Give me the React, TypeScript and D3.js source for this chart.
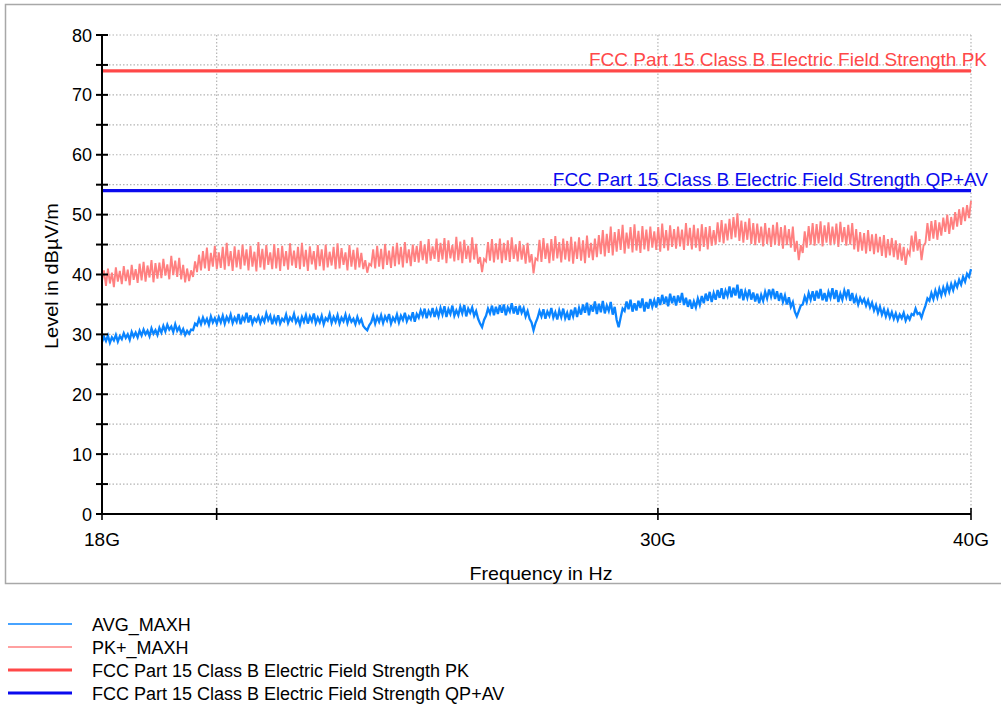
import React from 'react';
import * as d3 from 'd3';

// ---- data ----
const F_START = 18e9;
const F_STOP = 40e9;
const Y_TICKS = [0, 10, 20, 30, 40, 50, 60, 70, 80];
const Y_MINOR = [5, 15, 25, 35, 45, 55, 65, 75];
const Y_GRID = [5, 10, 15, 20, 25, 30, 35, 40, 45, 50, 55, 60, 65, 70, 75, 80];
const X_TICKS = [18e9, 20e9, 30e9, 40e9];
const X_TICK_LABELS = ['18G', '', '30G', '40G'];
const X_GRID = [20e9, 30e9, 40e9];
const LIMIT_PK = 74;
const LIMIT_QPAV = 54;

const PK_MAXH = [
  38.9, 40.7, 38.1, 41.0, 38.5, 40.3, 37.9, 41.2, 38.8, 40.6,
  38.4, 41.4, 38.9, 40.8, 38.2, 41.6, 39.1, 40.9, 38.6, 41.8,
  39.0, 42.1, 38.8, 41.5, 39.5, 42.4, 38.7, 41.9, 39.3, 42.0,
  39.4, 42.6, 39.8, 41.7, 39.2, 43.1, 39.9, 42.3, 39.6, 42.8,
  39.2, 41.6, 38.7, 41.0, 38.9, 40.7, 39.6, 42.2, 40.4, 43.3,
  40.7, 43.9, 41.0, 44.5, 40.6, 43.6, 41.3, 44.8, 40.9, 43.7,
  41.1, 44.6, 40.8, 45.3, 41.4, 43.9, 40.6, 44.7, 41.2, 44.1,
  40.9, 45.0, 41.5, 44.2, 40.7, 44.8, 41.3, 43.8, 40.5, 45.4,
  41.2, 44.3, 40.8, 44.9, 41.6, 43.7, 40.9, 45.1, 41.0, 44.4,
  40.6, 44.8, 41.4, 43.9, 40.8, 45.2, 41.5, 44.0, 41.1, 44.6,
  40.9, 45.3, 41.3, 44.1, 40.6, 44.7, 41.7, 43.9, 40.8, 44.9,
  41.4, 44.2, 40.7, 45.0, 41.2, 43.8, 41.5, 44.6, 40.9, 45.2,
  41.0, 44.4, 41.6, 43.7, 40.7, 44.9, 41.3, 44.1, 40.8, 44.5,
  41.2, 43.6, 40.9, 42.4, 40.3, 41.8, 41.5, 44.2, 41.0, 44.8,
  41.3, 44.3, 40.9, 45.1, 41.6, 44.0, 41.1, 44.7, 41.4, 45.3,
  41.7, 44.6, 41.2, 45.4, 41.9, 44.2, 41.4, 45.0, 42.1, 44.8,
  42.0, 45.6, 42.4, 45.0, 41.8, 45.9, 42.3, 44.7, 42.6, 46.0,
  42.1, 45.3, 42.5, 46.1, 41.9, 45.7, 42.7, 44.9, 42.2, 46.3,
  42.4, 45.5, 41.9, 45.8, 42.6, 44.8, 42.0, 46.2, 42.5, 45.1,
  41.8, 42.9, 40.4, 42.6, 42.2, 45.4, 42.3, 45.9, 42.0, 45.2,
  42.5, 46.0, 41.9, 45.3, 42.4, 45.7, 42.1, 46.2, 42.6, 45.0,
  42.2, 45.6, 42.5, 44.9, 41.8, 45.3, 42.0, 43.4, 40.2, 42.7,
  42.4, 45.8, 42.1, 46.1, 42.6, 45.2, 41.9, 45.9, 42.3, 46.4,
  42.7, 45.4, 42.0, 46.0, 42.5, 45.6, 42.2, 46.3, 41.8, 45.5,
  42.6, 46.2, 42.3, 45.7, 41.9, 46.5, 42.8, 45.3, 42.4, 46.0,
  42.9, 46.6, 43.4, 47.4, 43.0, 46.8, 43.6, 48.0, 43.2, 47.1,
  43.8, 47.6, 44.1, 48.3, 43.5, 47.0, 44.3, 47.9, 43.7, 48.4,
  44.0, 47.3, 43.6, 48.1, 44.2, 47.5, 43.9, 48.0, 44.5, 47.2,
  44.1, 47.9, 43.8, 48.5, 44.4, 47.4, 44.0, 48.2, 44.6, 47.6,
  44.3, 48.0, 44.7, 47.5, 44.1, 48.6, 44.8, 47.8, 44.2, 48.3,
  44.5, 47.7, 43.9, 48.4, 44.6, 47.9, 44.2, 48.1, 44.8, 47.4,
  45.0, 48.7, 45.4, 49.1, 45.2, 48.5, 45.7, 49.3, 45.9, 49.6,
  46.2, 50.2, 45.6, 49.0, 45.3, 48.8, 45.8, 49.4, 45.1, 48.6,
  44.9, 48.5, 45.3, 48.0, 44.7, 48.6, 45.1, 47.8, 44.6, 48.3,
  45.0, 48.7, 44.8, 47.9, 44.3, 48.2, 44.9, 47.6, 44.5, 48.0,
  43.8, 45.6, 42.4, 44.9, 43.6, 47.2, 44.5, 48.1, 45.0, 48.6,
  44.8, 48.4, 45.2, 48.9, 44.7, 48.2, 45.3, 48.7, 44.9, 48.0,
  45.1, 48.5, 44.6, 48.8, 45.4, 47.9, 44.8, 48.3, 45.0, 48.6,
  44.2, 47.6, 43.8, 47.1, 44.0, 46.9, 43.5, 47.4, 43.9, 46.7,
  43.4, 46.8, 43.7, 46.3, 43.1, 46.6, 42.8, 45.9, 43.2, 46.1,
  42.9, 45.7, 42.5, 45.2, 42.3, 44.6, 41.6, 44.0, 43.3, 46.5,
  43.8, 47.2, 44.0, 45.9, 42.4, 44.8, 45.3, 48.6, 45.6, 48.9,
  46.0, 49.1, 45.8, 48.7, 46.5, 49.5, 47.1, 50.0, 46.8, 49.6,
  47.5, 50.4, 48.0, 50.9, 48.3, 51.2, 48.9, 51.6, 49.4, 52.3,
];

const AVG_MAXH = [
  28.7, 29.6, 28.9, 29.8, 28.6, 29.5, 29.0, 29.9, 28.8, 29.7,
  29.2, 30.2, 29.4, 30.0, 29.1, 30.4, 29.6, 30.3, 29.5, 30.6,
  29.8, 30.8, 30.0, 30.6, 29.7, 31.0, 30.1, 30.7, 29.9, 31.1,
  30.3, 31.4, 30.5, 31.6, 30.8, 31.3, 30.4, 31.7, 30.6, 31.2,
  30.2, 30.9, 29.9, 30.6, 30.1, 30.8, 30.7, 31.8, 31.5, 32.6,
  31.7, 32.8, 31.9, 32.6, 31.6, 33.0, 32.0, 32.7, 31.8, 32.9,
  32.0, 33.1, 31.8, 32.9, 32.2, 33.3, 31.9, 32.8, 32.1, 33.4,
  31.7, 32.9, 32.3, 33.6, 32.0, 33.2, 31.8, 32.7, 32.2, 33.0,
  31.9, 32.8, 32.1, 33.5, 32.4, 33.1, 31.7, 32.9, 32.0, 33.2,
  31.8, 32.6, 32.2, 33.3, 31.9, 32.8, 32.3, 33.4, 32.0, 32.7,
  31.6, 32.9, 32.1, 33.2, 31.8, 33.0, 32.2, 33.5, 31.9, 32.8,
  32.0, 33.1, 31.7, 32.7, 32.3, 33.4, 31.9, 32.9, 32.1, 33.2,
  31.8, 32.8, 32.2, 33.3, 31.9, 33.0, 32.1, 32.6, 31.7, 32.9,
  31.9, 32.5, 31.4, 31.0, 30.7, 31.5, 32.0, 33.1, 31.8, 32.9,
  32.1, 33.2, 31.9, 33.0, 32.3, 33.4, 31.8, 32.8, 32.2, 33.3,
  32.0, 33.1, 32.4, 33.6, 32.2, 33.0, 32.5, 33.7, 32.1, 33.4,
  32.8, 34.0, 33.1, 34.3, 32.7, 33.9, 33.2, 34.4, 32.9, 34.1,
  33.0, 34.4, 33.3, 34.7, 32.9, 34.2, 33.4, 34.8, 33.1, 34.0,
  33.2, 34.6, 33.5, 34.9, 33.0, 34.3, 33.6, 34.5, 33.1, 33.9,
  32.6, 31.8, 31.2, 32.4, 33.1, 34.3, 33.5, 34.8, 33.2, 34.6,
  33.4, 34.9, 33.6, 35.0, 33.2, 34.5, 33.8, 35.2, 33.5, 34.7,
  33.3, 34.8, 33.6, 34.4, 33.0, 33.9, 32.6, 32.0, 30.7, 31.9,
  32.7, 33.9, 33.0, 34.2, 32.6, 33.8, 33.1, 34.4, 32.8, 33.7,
  32.5, 34.0, 32.9, 34.3, 32.7, 33.6, 32.4, 34.1, 33.0, 34.5,
  32.9, 34.4, 33.3, 35.0, 33.6, 35.3, 33.2, 34.9, 33.8, 35.5,
  33.4, 35.1, 33.7, 35.6, 33.5, 34.8, 33.9, 35.4, 33.3, 34.6,
  32.4, 31.2, 32.8, 34.3, 33.9, 35.5, 34.2, 35.8, 33.8, 35.2,
  34.0, 35.6, 34.4, 36.0, 33.8, 35.4, 34.3, 35.9, 34.6, 35.7,
  34.5, 36.2, 34.9, 36.6, 35.1, 36.3, 34.7, 36.8, 35.2, 36.4,
  34.8, 36.5, 35.3, 36.9, 34.9, 36.1, 34.6, 35.8, 34.3, 35.5,
  34.5, 36.0, 34.9, 36.4, 35.2, 36.8, 35.6, 37.1, 35.4, 36.9,
  35.8, 37.4, 36.1, 37.7, 35.9, 37.3, 36.4, 38.0, 36.2, 37.8,
  36.5, 38.3, 36.0, 37.6, 35.7, 37.2, 36.1, 37.5, 35.8, 37.0,
  35.5, 36.8, 35.2, 36.6, 35.6, 37.1, 36.0, 37.5, 36.3, 37.6,
  35.9, 37.2, 35.6, 36.9, 35.4, 36.5, 35.0, 36.2, 34.6, 35.4,
  33.8, 33.0, 33.9, 34.8, 35.0, 36.3, 35.4, 36.9, 35.8, 37.2,
  35.6, 37.3, 36.0, 37.6, 35.7, 36.9, 35.5, 37.1, 36.1, 37.7,
  35.9, 37.4, 35.4, 36.8, 35.8, 37.3, 36.2, 37.5, 35.6, 36.9,
  35.2, 36.3, 35.0, 36.1, 35.3, 35.9, 34.8, 35.7, 34.5, 35.3,
  34.0, 34.9, 33.6, 34.6, 33.3, 34.2, 33.0, 34.0, 32.8, 33.7,
  32.6, 33.5, 32.4, 33.3, 32.7, 33.6, 32.3, 33.1, 32.5, 33.4,
  33.2, 34.3, 33.4, 33.6, 32.8, 33.9, 34.8, 36.0, 35.6, 36.9,
  35.9, 37.3, 36.2, 37.6, 36.5, 37.8, 36.8, 38.2, 37.1, 38.4,
  37.4, 38.7, 37.9, 39.1, 38.3, 39.6, 38.8, 40.1, 39.6, 40.9,
];

const LEGEND_LABELS = [
  'AVG_MAXH',
  'PK+_MAXH',
  'FCC Part 15 Class B Electric Field Strength PK',
  'FCC Part 15 Class B Electric Field Strength QP+AV',
];

// sweep grid (frequency points of the trace)
const FREQS = PK_MAXH.map(
  (_, i) => F_START * Math.pow(F_STOP / F_START, i / (PK_MAXH.length - 1))
);

const C_AVG = '#0a84ff';
const C_PK = '#ff8080';
const C_LIM_PK = '#ff4848';
const C_LIM_QP = '#0a0aee';
const FONT = "'Liberation Sans', Arial, Helvetica, sans-serif";

export default function App() {
  const W = 1001;
  const H = 706;
  const x = d3.scaleLog().domain([F_START, F_STOP]).range([102, 971]);
  const y = d3.scaleLinear().domain([0, 80]).range([514, 35]);

  const line = d3
    .line<number>()
    .x((_, i) => x(FREQS[i]))
    .y((d) => y(d));

  const [x0, x1] = x.range();
  const legendColors = [C_AVG, C_PK, C_LIM_PK, C_LIM_QP];
  const legendWidths = [1.6, 1.6, 3.2, 3.2];

  return (
    <svg
      width={W}
      height={H}
      style={{ position: 'absolute', left: 0, top: 0, background: '#fff' }}
      fontFamily={FONT}
    >
      <rect x={0} y={0} width={W} height={H} fill="#fff" />
      {/* frame */}
      <rect x={5.5} y={4.5} width={1010} height={579} fill="#fff" stroke="#a8a8a8" strokeWidth={1.5} />

      {/* grid */}
      {Y_GRID.map((v) => (
        <line key={'gy' + v} x1={x0} x2={x1} y1={y(v)} y2={y(v)} stroke="#b4b4b4" strokeWidth={1.2} strokeDasharray="1.5,2" />
      ))}
      {X_GRID.map((f) => (
        <line key={'gx' + f} x1={x(f)} x2={x(f)} y1={y(80)} y2={y(0)} stroke="#b4b4b4" strokeWidth={1.2} strokeDasharray="1.5,2" />
      ))}

      {/* traces */}
      <path d={line(PK_MAXH) || ''} fill="none" stroke={C_PK} strokeWidth={1.9} strokeLinejoin="miter" />
      <path d={line(AVG_MAXH) || ''} fill="none" stroke={C_AVG} strokeWidth={2.3} strokeLinejoin="miter" />

      {/* limits */}
      <line x1={x0} x2={x1} y1={y(LIMIT_PK)} y2={y(LIMIT_PK)} stroke={C_LIM_PK} strokeWidth={3.2} />
      <line x1={x0} x2={x1} y1={y(LIMIT_QPAV)} y2={y(LIMIT_QPAV)} stroke={C_LIM_QP} strokeWidth={3.2} />
      <text x={987} y={y(LIMIT_PK) - 5} textAnchor="end" fontSize={19} fill={C_LIM_PK}>
        {LEGEND_LABELS[2]}
      </text>
      <text x={988} y={y(LIMIT_QPAV) - 5} textAnchor="end" fontSize={19} fill={C_LIM_QP}>
        {LEGEND_LABELS[3]}
      </text>

      {/* axes */}
      <line x1={x0} x2={x0} y1={y(80)} y2={y(0) + 1} stroke="#000" strokeWidth={2} />
      <line x1={x0 - 1} x2={x1} y1={y(0)} y2={y(0)} stroke="#000" strokeWidth={2} />
      {Y_TICKS.map((v) => (
        <g key={'yt' + v}>
          <line x1={x0 - 6} x2={x0 + 6} y1={y(v)} y2={y(v)} stroke="#000" strokeWidth={2} />
          <text x={92} y={y(v) + 6.5} textAnchor="end" fontSize={18} fill="#000">
            {v}
          </text>
        </g>
      ))}
      {Y_MINOR.map((v) => (
        <line key={'ym' + v} x1={x0 - 6} x2={x0 + 6} y1={y(v)} y2={y(v)} stroke="#000" strokeWidth={2} />
      ))}
      {X_TICKS.map((f, i) => (
        <g key={'xt' + f}>
          <line x1={x(f)} x2={x(f)} y1={y(0) - 6} y2={y(0) + 6} stroke="#000" strokeWidth={1.6} />
          {X_TICK_LABELS[i] && (
            <text x={x(f)} y={546} textAnchor="middle" fontSize={19} fill="#000">
              {X_TICK_LABELS[i]}
            </text>
          )}
        </g>
      ))}

      {/* axis titles */}
      <text x={541} y={579.5} textAnchor="middle" fontSize={19} fill="#000" textLength={143} lengthAdjust="spacingAndGlyphs">
        Frequency in Hz
      </text>
      <text
        transform={`translate(58,276) rotate(-90)`}
        textAnchor="middle"
        fontSize={19}
        fill="#000"
        textLength={146}
        lengthAdjust="spacingAndGlyphs"
      >
        Level in dBµV/m
      </text>

      {/* legend */}
      {LEGEND_LABELS.map((lab, i) => (
        <g key={'lg' + i}>
          <line x1={8} x2={72} y1={624 + i * 23} y2={624 + i * 23} stroke={legendColors[i]} strokeWidth={legendWidths[i]} />
          <text x={92} y={630.5 + i * 23} fontSize={18} fill="#000">
            {lab}
          </text>
        </g>
      ))}
    </svg>
  );
}
